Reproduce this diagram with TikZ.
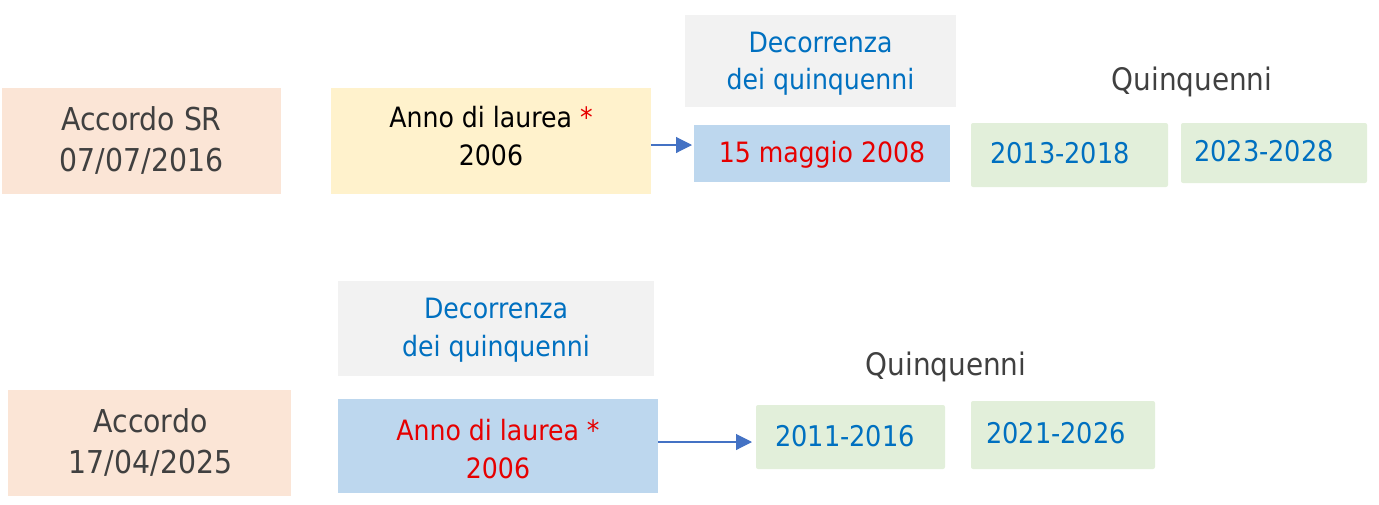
\documentclass[tikz,border=0pt]{standalone}
\usepackage{fontspec}
\setmainfont{DejaVu Sans Condensed}
\usetikzlibrary{arrows.meta}
\definecolor{peach}{HTML}{FBE5D6}
\definecolor{lyellow}{HTML}{FFF2CC}
\definecolor{lgray}{HTML}{F2F2F2}
\definecolor{lblue}{HTML}{BDD7EE}
\definecolor{lgreen}{HTML}{E2EFDA}
\definecolor{tblue}{HTML}{0070C0}
\definecolor{tred}{HTML}{E60000}
\definecolor{tdark}{HTML}{404040}
\definecolor{arr}{HTML}{4472C4}
\tikzset{
  box/.style={rectangle, inner sep=0pt, align=center},
  big/.style={font=\fontsize{31.5}{41}\selectfont, text=tdark},
  mid/.style={font=\fontsize{28}{37.5}\selectfont},
  yr/.style={font=\fontsize{28.5}{32}\selectfont, text=tblue},
  qq/.style={font=\fontsize{31}{36}\selectfont, text=tdark},
  conn/.style={draw=arr, line width=1.1pt, -{Triangle[length=16pt,width=16pt]}}
}
\begin{document}
\begin{tikzpicture}[x=1pt,y=-1pt]
\useasboundingbox (0,0) rectangle (1379,504);
% top row
\node[box, fill=peach, minimum width=279pt, minimum height=106pt] (A1) at (141.5,141) {};
\node[box, big] (A1t) at (141.5,140) {Accordo SR\\07/07/2016};
\node[box, fill=lyellow, minimum width=320pt, minimum height=106pt] (B1) at (491,141) {};
\node[box, mid] (B1t) at (491,136) {Anno di laurea \textcolor{tred}{*}\\2006};
\node[box, fill=lgray, minimum width=271pt, minimum height=92pt] (D1) at (820.5,61) {};
\node[box, mid, text=tblue] (D1t) at (820.5,63.5) {Decorrenza\\dei quinquenni};
\node[box, fill=lblue, minimum width=256pt, minimum height=57pt] (M1) at (822,153.5) {};
\node[box, mid, text=tred] (M1t) at (822,155) {15 maggio 2008};
\node[qq] (Q1) at (1192,82) {Quinquenni};
\node[box, fill=lgreen, minimum width=197pt, minimum height=64pt, rounded corners=2pt] (G1) at (1069.5,155) {};
\node[yr] (G1t) at (1060,153) {2013-2018};
\node[box, fill=lgreen, minimum width=186pt, minimum height=60pt, rounded corners=2pt] (G2) at (1274,153) {};
\node[yr] (G2t) at (1264,151) {2023-2028};
\coordinate (T1) at (692,145);
\draw[conn] (B1.east |- T1) -- (T1);
% bottom row
\node[box, fill=peach, minimum width=283pt, minimum height=106pt] (A2) at (149.5,443) {};
\node[box, big] (A2t) at (150.5,442) {Accordo\\17/04/2025};
\node[box, fill=lgray, minimum width=316pt, minimum height=95pt] (D2) at (496,328.5) {};
\node[box, mid, text=tblue] (D2t) at (496,330) {Decorrenza\\dei quinquenni};
\node[box, fill=lblue, minimum width=320pt, minimum height=94pt] (B2) at (498,446) {};
\node[box, mid, text=tred] (B2t) at (498,449) {Anno di laurea *\\2006};
\node[qq] (Q2) at (946,367) {Quinquenni};
\node[box, fill=lgreen, minimum width=189pt, minimum height=64pt, rounded corners=2pt] (G3) at (850.5,437) {};
\node[yr] (G3t) at (845,436) {2011-2016};
\node[box, fill=lgreen, minimum width=184pt, minimum height=68pt, rounded corners=2pt] (G4) at (1063,435) {};
\node[yr] (G4t) at (1056,433) {2021-2026};
\coordinate (T2) at (752,442);
\draw[conn] (B2.east |- T2) -- (T2);
\end{tikzpicture}
\end{document}
